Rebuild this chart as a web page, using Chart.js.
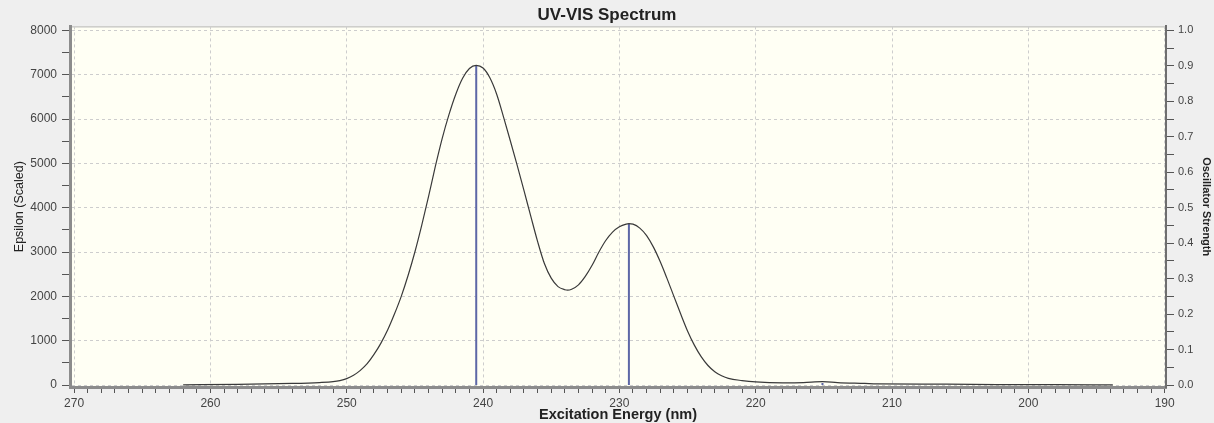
<!DOCTYPE html>
<html>
<head>
<meta charset="utf-8">
<script src="https://cdn.jsdelivr.net/npm/chart.js@4/dist/chart.umd.min.js"></script>
<style>
    html, body { margin: 0; padding: 0; background: #efefef; }
</style>
</head>
<body>
<canvas id="grafico" width="1214" height="423"></canvas>
<script>
// espectro (nm -> epsilon)
const comprimentos = [262.0, 258.0, 254.0, 252.0, 251.0, 250.5, 250.0, 249.5, 249.0, 248.5, 248.0, 247.5, 247.0, 246.5,
    246.0, 245.5, 245.0, 244.5, 244.0, 243.5, 243.0, 242.5, 242.0, 241.5, 241.0, 240.5,
    240.0, 239.5, 239.0, 238.5, 238.0, 237.5, 237.0, 236.5, 236.0, 235.5, 235.0, 234.5, 234.0, 233.8,
    233.5, 233.0, 232.5, 232.0, 231.5, 231.0, 230.5, 230.0, 229.5, 229.3, 229.0, 228.5, 228.0, 227.5,
    227.0, 226.5, 226.0, 225.5, 225.0, 224.5, 224.0, 223.5, 223.0, 222.5, 222.0, 221.0, 220.0, 218.0,
    216.5, 215.1, 214.0, 212.0, 211.1, 206.0, 202.3, 198.0, 193.8];
const epsilon = [5, 15, 35, 55, 75, 100, 145, 220, 330, 480, 690, 940, 1240, 1600,
    2000, 2470, 3000, 3600, 4250, 4930, 5560, 6100, 6560, 6920, 7140, 7210,
    7150, 6930, 6560, 6050, 5510, 4960, 4390, 3810, 3240, 2740, 2410, 2220, 2150, 2140,
    2160, 2260, 2450, 2700, 3000, 3260, 3450, 3570, 3630, 3640, 3630, 3540, 3370, 3110,
    2780, 2400, 2000, 1600, 1220, 900, 640, 440, 300, 210, 150, 100, 70, 50,
    55, 75, 55, 35, 25, 20, 10, 8, 3];

// transicoes (nm -> forca do oscilador)
const transicoes = [240.5, 229.3, 215.1];
const forcas = [0.90, 0.455, 0.006];

// rotulos dos eixos
const rotulosX = [270, 260, 250, 240, 230, 220, 210, 200, 190];
const rotulosY = [0, 1000, 2000, 3000, 4000, 5000, 6000, 7000, 8000];
const rotulosY2 = ["0.0", "0.1", "0.2", "0.3", "0.4", "0.5", "0.6", "0.7", "0.8", "0.9", "1.0"];

const fonte = "'Liberation Sans', Arial, sans-serif";

const fundo = {
    id: "fundo",
    beforeDraw(chart) {
        const { ctx, chartArea: a } = chart;
        ctx.save();
        ctx.fillStyle = "#efefef";
        ctx.fillRect(0, 0, chart.width, chart.height);
        ctx.fillStyle = "#fffff4";
        ctx.fillRect(a.left, a.top, a.right - a.left, a.bottom - a.top);
        ctx.strokeStyle = "#b4b4b4";
        ctx.lineWidth = 1;
        ctx.beginPath();
        ctx.moveTo(a.left, a.top + 0.5);
        ctx.lineTo(a.right, a.top + 0.5);
        ctx.stroke();
        ctx.restore();
    }
};

const datasets = [{
    data: comprimentos.map((x, i) => ({ x, y: epsilon[i] })),
    borderColor: "#3a3a3a",
    borderWidth: 1.2,
    pointRadius: 0,
    cubicInterpolationMode: "monotone",
    yAxisID: "y"
}];

transicoes.forEach((x, i) => {
    datasets.push({
        data: [{ x, y: 0 }, { x, y: forcas[i] }],
        borderColor: "#5d67a6",
        borderWidth: 2,
        pointRadius: 0,
        yAxisID: "y2"
    });
});

new Chart(document.getElementById("grafico"), {
    type: "line",
    data: { datasets },
    plugins: [fundo],
    options: {
        responsive: false,
        animation: false,
        layout: { padding: 0 },
        plugins: {
            legend: { display: false },
            tooltip: { enabled: false },
            title: {
                display: true,
                text: "UV-VIS Spectrum",
                color: "#222",
                font: { family: fonte, size: 17, weight: "bold" },
                padding: { top: 5, bottom: 1 }
            }
        },
        scales: {
            x: {
                type: "linear",
                reverse: true,
                min: 189.9,
                max: 270.3,
                afterBuildTicks: s => {
                    const t = [];
                    for (let v = 190; v <= 270; v++) t.push({ value: v });
                    s.ticks = t;
                },
                afterFit: s => { s.height = 36; },
                border: { display: true, color: "#8c8c8c", width: 3, dash: [3, 3] },
                grid: {
                    color: c => c.tick && rotulosX.includes(c.tick.value) ? "#cdcdcd" : "rgba(0,0,0,0)",
                    tickColor: "#555",
                    tickLength: 6,
                    tickBorderDash: [],
                    lineWidth: 1
                },
                ticks: {
                    autoSkip: false,
                    maxRotation: 0,
                    padding: 3,
                    color: "#444",
                    font: { family: fonte, size: 12 },
                    callback: v => rotulosX.includes(v) ? String(v) : ""
                },
                title: {
                    display: true,
                    text: "Excitation Energy (nm)",
                    color: "#222",
                    font: { family: fonte, size: 14.5, weight: "bold" },
                    padding: { top: 0, bottom: -1 }
                }
            },
            y: {
                position: "left",
                min: -45,
                max: 8090,
                afterBuildTicks: s => {
                    const t = [];
                    for (let v = 0; v <= 8000; v += 500) t.push({ value: v });
                    s.ticks = t;
                },
                afterFit: s => { s.width = 70; },
                border: { display: true, color: "#8c8c8c", width: 3, dash: [3, 3] },
                grid: {
                    color: c => c.tick && rotulosY.includes(c.tick.value) ? "#cdcdcd" : "rgba(0,0,0,0)",
                    tickColor: "#555",
                    tickLength: 8,
                    tickBorderDash: []
                },
                ticks: {
                    autoSkip: false,
                    padding: 5,
                    color: "#444",
                    font: { family: fonte, size: 12 },
                    callback: v => rotulosY.includes(v) ? String(v) : ""
                },
                title: {
                    display: true,
                    text: "Epsilon (Scaled)",
                    color: "#222",
                    font: { family: fonte, size: 12.5 },
                    padding: { top: 12, bottom: 0 }
                }
            },
            y2: {
                position: "right",
                min: -0.0056,
                max: 1.0113,
                afterBuildTicks: s => {
                    const t = [];
                    for (let k = 0; k <= 20; k++) t.push({ value: k / 20 });
                    s.ticks = t;
                },
                afterFit: s => { s.width = 48; },
                border: { display: true, color: "#6e6e6e", width: 2 },
                grid: {
                    drawOnChartArea: false,
                    tickColor: "#555",
                    tickLength: 8
                },
                ticks: {
                    autoSkip: false,
                    padding: 4,
                    color: "#444",
                    font: { family: fonte, size: 11 },
                    callback: v => {
                        const k = Math.round(v * 20);
                        return k % 2 === 0 ? rotulosY2[k / 2] : "";
                    }
                },
                title: {
                    display: true,
                    text: "Oscillator Strength",
                    color: "#222",
                    font: { family: fonte, size: 11, weight: "bold" },
                    padding: { top: 1, bottom: 0 }
                }
            }
        }
    }
});
</script>
</body>
</html>
